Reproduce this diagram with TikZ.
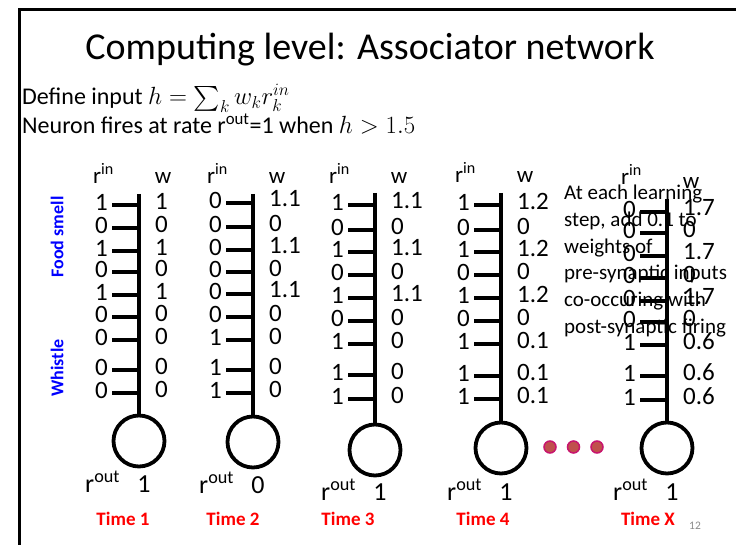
\documentclass[tikz,border=0pt]{standalone}
\usepackage{amsmath}
\usepackage{fontspec}
\setmainfont{Carlito}
\definecolor{dotfill}{RGB}{192,80,77}
\definecolor{dotedge}{RGB}{200,20,110}
\definecolor{pagegray}{RGB}{140,140,140}
\newcommand{\neuronunit}[5]{%
  % #1 name, #2 x, #3 stem top y, #4 circle centre y, #5 ticks ty/r/w
  \node[neuron] (#1c) at (#2,#4) {};
  \coordinate (#1t) at (#2,#3);
  \draw[stem] (#1t) -- (#1c.north);
  \foreach \ty/\rv/\wv [count=\k] in {#5} {
    \coordinate (#1k\k) at (#2-27,\ty);
    \coordinate (#1s\k) at (#2,\ty);
    \draw[stem] (#1k\k) -- (#1s\k);
    \node[num,anchor=east] (#1r\k) at (#2-31,\ty-3) {\rv};
    \node[num,anchor=west] (#1w\k) at (#2+16,\ty-4) {\wv};
  }
}
\begin{document}
\begin{tikzpicture}[x=1pt,y=-1pt,
  stem/.style={line width=3.8pt},
  neuron/.style={circle,draw,line width=3.8pt,minimum size=51pt,inner sep=0pt},
  num/.style={font=\fontsize{25}{25}\selectfont,inner sep=0pt},
  hdr/.style={font=\fontsize{23}{23}\selectfont,inner sep=0pt,anchor=base west},
  outlbl/.style={font=\fontsize{26}{26}\selectfont,inner sep=0pt,anchor=base west},
  timelbl/.style={font=\fontsize{19}{19}\selectfont\bfseries,text=red,inner sep=0pt},
  sidelbl/.style={font=\fontsize{18}{18}\selectfont\bfseries,text=blue,rotate=90,inner sep=0pt},
  note/.style={font=\fontsize{21}{21}\selectfont,inner sep=0pt,anchor=base west},
  dotnode/.style={circle,fill=dotfill,draw=dotedge,line width=1.5pt,minimum size=12pt,inner sep=0pt}]
\useasboundingbox (0,0) rectangle (736,545);
\fill[white] (0,0) rectangle (736,545);
\draw[line width=3.5pt] (19.5,560) -- (19.5,9.5) -- (750,9.5);

\node[anchor=base,inner sep=0pt,font=\fontsize{38}{38}\selectfont] (title) at (370,60) {Computing level: Associator network};
\node[anchor=base west,inner sep=0pt,font=\fontsize{24}{24}\selectfont] (def) at (22,105) {Define input {\fontsize{27}{27}\selectfont$h=\sum\nolimits_k w_k r_k^{in}$}};
\node[anchor=base west,inner sep=0pt,font=\fontsize{24}{24}\selectfont] (fire) at (22,134) {Neuron fires at rate r\textsuperscript{out}=1 when {\fontsize{27}{27}\selectfont$h>1.5$}};

\node[sidelbl] (food) at (57,237) {Food smell};
\node[sidelbl] (whistle) at (57,368) {Whistle};

% neurons
\neuronunit{a}{139}{194}{441}{205/1/1, 228/0/0, 251/1/1, 272/0/0, 295/1/1, 317/0/0, 340/0/0, 370/0/0, 393/0/0}
\neuronunit{b}{253}{194}{442}{203/0/1.1, 227/0/0, 250/0/1.1, 272/0/0, 294/0/1.1, 317/0/0, 340/1/0, 370/1/0, 393/1/0}
\neuronunit{c}{375}{193}{450}{205/1/1.1, 230/0/0, 252/1/1.1, 275/0/0, 298/1/1.1, 321/0/0, 344/1/0, 375/1/0, 399/1/0}
\neuronunit{d}{501}{193}{448}{205/1/1.2, 230/0/0, 252/1/1.2, 275/0/0, 298/1/1.2, 321/0/0, 344/1/0.1, 376/1/0.1, 399/1/0.1}
\neuronunit{e}{667}{199}{448}{212/0/1.7, 233/0/0, 256/0/1.7, 278/0/0, 301/0/1.7, 322/0/0, 345/1/0.6, 376/1/0.6, 400/1/0.6}

% headers
\foreach \nm/\x/\rb/\wb in {a/139/184/184, b/253/184/184, c/375/184/184, d/501/183/183, e/667/185/189} {
  \node[hdr] (\nm hr) at (\x-46,\rb) {r\textsuperscript{in}};
  \node[hdr,anchor=base] (\nm hw) at (\x+24,\wb) {w};
}

% outputs
\foreach \nm/\x/\b/\v in {a/139/492/1, b/253/493/0, c/375/500/1, d/501/500/1, e/667/500/1} {
  \node[outlbl] (\nm ro) at (\x-54,\b) {r\textsuperscript{out}};
  \node[outlbl,anchor=base] (\nm rv) at (\x+5,\b) {\v};
}

% time labels
\node[timelbl] (t1) at (123,519) {Time 1};
\node[timelbl] (t2) at (233,519) {Time 2};
\node[timelbl] (t3) at (348,519) {Time 3};
\node[timelbl] (t4) at (483,519) {Time 4};
\node[timelbl] (tx) at (648,519) {Time X};

% ellipsis dots
\node[dotnode] (dot1) at (550,447) {};
\node[dotnode] (dot2) at (573.5,447) {};
\node[dotnode] (dot3) at (597,447) {};

% note
\node[note] (n1) at (564,200) {At each learning};
\node[note] (n2) at (564,226.6) {step, add 0.1 to};
\node[note] (n3) at (564,253.2) {weights of};
\node[note] (n4) at (564,279.8) {pre-synaptic inputs};
\node[note] (n5) at (564,306.4) {co-occuring with};
\node[note] (n6) at (564,333) {post-synaptic firing};

\node[inner sep=0pt,font=\fontsize{11.5}{11.5}\selectfont,text=pagegray] (pg) at (695,525.5) {12};
\end{tikzpicture}
\end{document}
